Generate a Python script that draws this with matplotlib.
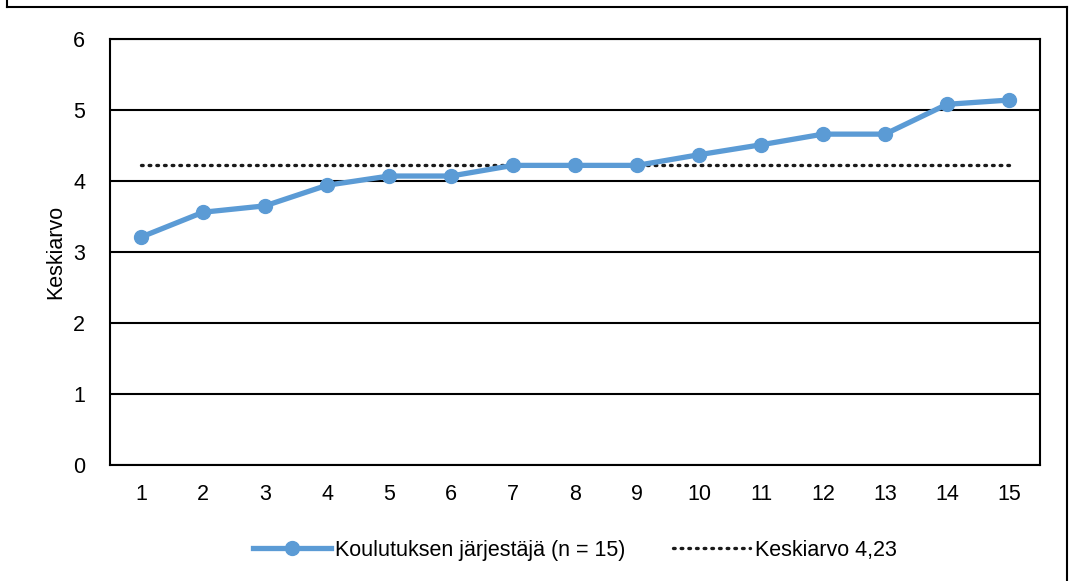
import matplotlib.pyplot as plt
from matplotlib.lines import Line2D

plt.rcParams['font.family'] = ['Liberation Sans', 'DejaVu Sans']

jarjestajat = list(range(1, 16))
keskiarvot = [3.21, 3.56, 3.65, 3.94, 4.07, 4.07, 4.22, 4.22, 4.22,
              4.37, 4.51, 4.66, 4.66, 5.08, 5.14]
kokonais_keskiarvo = 4.23

sininen = '#5B9BD5'
koko = 15.5

fig = plt.figure(figsize=(10.70, 5.81), dpi=100)
ax = fig.add_axes([110 / 1070, 116 / 581, 930 / 1070, 426 / 581])

ax.plot(jarjestajat, keskiarvot, color=sininen, lw=3.8, marker='o',
        markersize=10, label='Koulutuksen järjestäjä (n = 15)', zorder=3)
ax.plot(jarjestajat, [kokonais_keskiarvo] * len(jarjestajat), color='#1a1a1a',
        lw=2.4, linestyle=(0, (0.5, 1.8)), dash_capstyle='round',
        label='Keskiarvo 4,23', zorder=2)

ax.set_xlim(0.5, 15.5)
ax.set_ylim(0, 6)
ax.set_xticks(jarjestajat)
ax.set_yticks(range(0, 7))
ax.tick_params(length=0, labelsize=koko, pad=14)
ax.tick_params(axis='y', pad=18)
ax.yaxis.grid(True, color='black', lw=1.5)
ax.set_axisbelow(True)
for s in ax.spines.values():
    s.set_linewidth(1.5)
    s.set_color('black')
ax.set_ylabel('Keskiarvo', fontsize=koko, labelpad=5)

ax.legend(loc='upper center', bbox_to_anchor=(0.5, -0.13), ncol=2,
          frameon=False, fontsize=koko, handlelength=3.6, columnspacing=2.2,
          handletextpad=0.2)

# kehys kuvan ympärillä
for xs, ys in [((7, 7), (0, 7)), ((7, 1067), (7, 7)), ((1067, 1067), (7, 581))]:
    fig.add_artist(Line2D([x / 1070 for x in xs], [1 - y / 581 for y in ys],
                          color='black', lw=1.5))

fig.savefig('out.png', dpi=100)
